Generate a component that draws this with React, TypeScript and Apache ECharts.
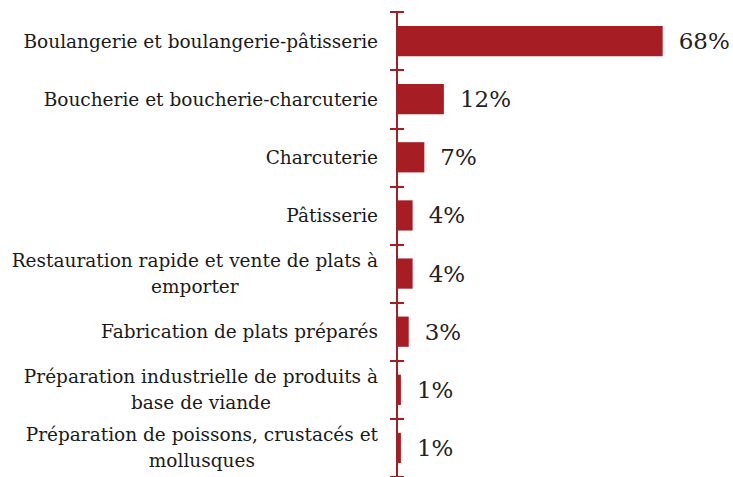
import React, { useEffect, useRef } from "react";
import * as echarts from "echarts";

const categories = [
  "Boulangerie et boulangerie-pâtisserie",
  "Boucherie et boucherie-charcuterie",
  "Charcuterie",
  "Pâtisserie",
  "Restauration rapide et vente de plats à\nemporter",
  "Fabrication de plats préparés",
  "Préparation industrielle de produits à\nbase de viande",
  "Préparation de poissons, crustacés et\nmollusques",
];
const shares = [68, 12, 7, 4, 4, 3, 1, 1];

const RED = "#A61E24";
const FONT = "DejaVu Serif";

export default function App() {
  const ref = useRef<HTMLDivElement>(null);
  useEffect(() => {
    if (!ref.current) return;
    const chart = echarts.init(ref.current, null, { renderer: "svg" });
    chart.setOption({
      animation: false,
      textStyle: { fontFamily: FONT },
      grid: { left: 397, right: 0, top: 12, bottom: -2, containLabel: false },
      xAxis: {
        type: "value",
        min: 0,
        max: 86,
        show: false,
      },
      yAxis: [
        {
          type: "category",
          data: categories,
          inverse: true,
          position: "left",
          axisLine: { show: true, lineStyle: { color: RED, width: 2 } },
          axisTick: { show: true, inside: false, length: 7, lineStyle: { color: RED, width: 2 } },
          axisLabel: {
            margin: 19,
            fontFamily: FONT,
            fontSize: 18.5,
            color: "#1a1a1a",
            formatter: (v: string) => v.split("\n").map((l) => `{c|${l}}`).join("\n"),
            rich: {
              c: {
                align: "center",
                fontFamily: FONT,
                fontSize: 18.5,
                color: "#1a1a1a",
                lineHeight: 26,
              },
            },
          },
          splitLine: { show: false },
        },
        {
          type: "category",
          data: categories,
          inverse: true,
          position: "left",
          axisLine: { show: false },
          axisTick: { show: true, inside: true, length: 7, lineStyle: { color: RED, width: 2 } },
          axisLabel: { show: false },
          splitLine: { show: false },
        },
      ],
      series: [
        {
          type: "bar",
          data: shares,
          yAxisIndex: 0,
          barCategoryGap: "48%",
          itemStyle: { color: RED },
          label: {
            show: true,
            position: "right",
            distance: 16,
            formatter: (p: any) => `${p.value}%`,
            fontFamily: FONT,
            fontSize: 23,
            color: "#222",
          },
        },
      ],
    });
    return () => chart.dispose();
  }, []);
  return (
    <div
      ref={ref}
      style={{ position: "absolute", left: 0, top: 0, width: 733, height: 477, background: "#fff" }}
    />
  );
}
